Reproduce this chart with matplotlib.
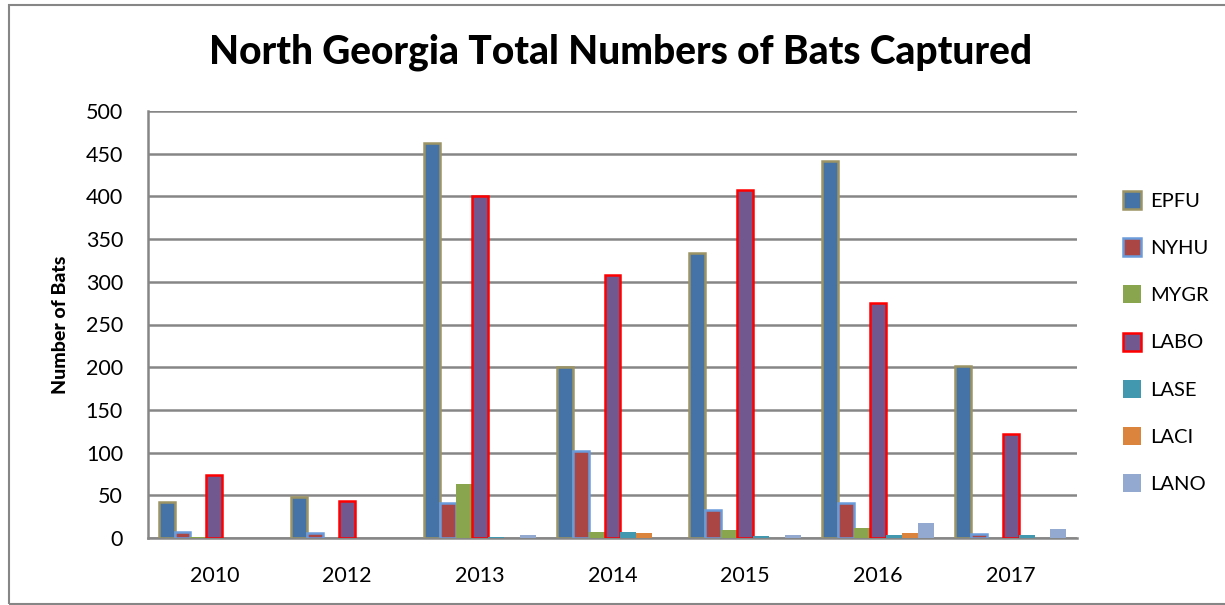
import matplotlib
matplotlib.use("Agg")
import matplotlib.pyplot as plt
import numpy as np
from matplotlib.patches import Rectangle

years = ["2010", "2012", "2013", "2014", "2015", "2016", "2017"]
species = ["EPFU", "NYHU", "MYGR", "LABO", "LASE", "LACI", "LANO"]
EPFU = [42, 48, 463, 200, 334, 441, 201]
NYHU = [7, 6, 41, 102, 33, 41, 5]
MYGR = [1, 0, 63, 7, 9, 12, 0]
LABO = [74, 43, 401, 308, 408, 275, 122]
LASE = [0, 0, 1, 7, 2, 3, 3]
LACI = [0, 0, 0, 6, 0, 6, 0]
LANO = [0, 0, 3, 0, 3, 17, 11]
series = [EPFU, NYHU, MYGR, LABO, LASE, LACI, LANO]

fills = ["#4572A7", "#AA4643", "#89A54E", "#71588F", "#4198AF", "#DB843D", "#93A9CF"]
edges = ["#9C9464", "#6A9BDB", None, "#FF0000", None, None, None]

plt.rcParams['font.family'] = ['Lato', 'DejaVu Sans']

fig = plt.figure(figsize=(12.25, 6.05), dpi=100)
W, H = 1225, 605
ax = fig.add_axes([148 / W, 1 - 538 / H, (1077 - 148) / W, (538 - 111) / H])

x = np.arange(len(years))
bw = 0.12
for i, (vals, fc, ec) in enumerate(zip(series, fills, edges)):
    pos = x + (i - 3) * bw
    if ec:
        ax.bar(pos, vals, bw, color=fc, edgecolor=ec, linewidth=1.8, label=species[i], zorder=3)
    else:
        ax.bar(pos, vals, bw, color=fc, linewidth=0, label=species[i], zorder=3)

ax.set_xlim(-0.5, len(years) - 0.5)
ax.set_ylim(0, 500)
ax.set_yticks(range(0, 501, 50))
ax.set_xticks(x)
ax.set_xticklabels(years)
ax.tick_params(length=0, labelsize=15.5)
ax.tick_params(axis='y', pad=18)
ax.tick_params(axis='x', pad=20)
ax.grid(axis='y', color='#868686', linewidth=1.8, zorder=0)
for s in ['top', 'right']:
    ax.spines[s].set_visible(False)
for s in ['left', 'bottom']:
    ax.spines[s].set_color('#868686')
    ax.spines[s].set_linewidth(1.8)
ax.set_ylabel("Number of Bats", fontsize=14, fontweight='black', labelpad=12)

fig.text(621 / W, 1 - 52 / H, "North Georgia Total Numbers of Bats Captured",
         ha='center', va='center', fontsize=28, fontweight='black')

leg = ax.legend(loc='center left', bbox_to_anchor=(1.03, 0.459), frameon=False,
                fontsize=14.5, labelspacing=1.4, handlelength=0.9, handleheight=1.0,
                handletextpad=0.45)

fig.patches.append(Rectangle((9 / W, 1 - 604 / H), 1.0, (604 - 5) / H,
                             transform=fig.transFigure, fill=False,
                             edgecolor='#868686', linewidth=1.5))

fig.savefig("out.png", dpi=100)
